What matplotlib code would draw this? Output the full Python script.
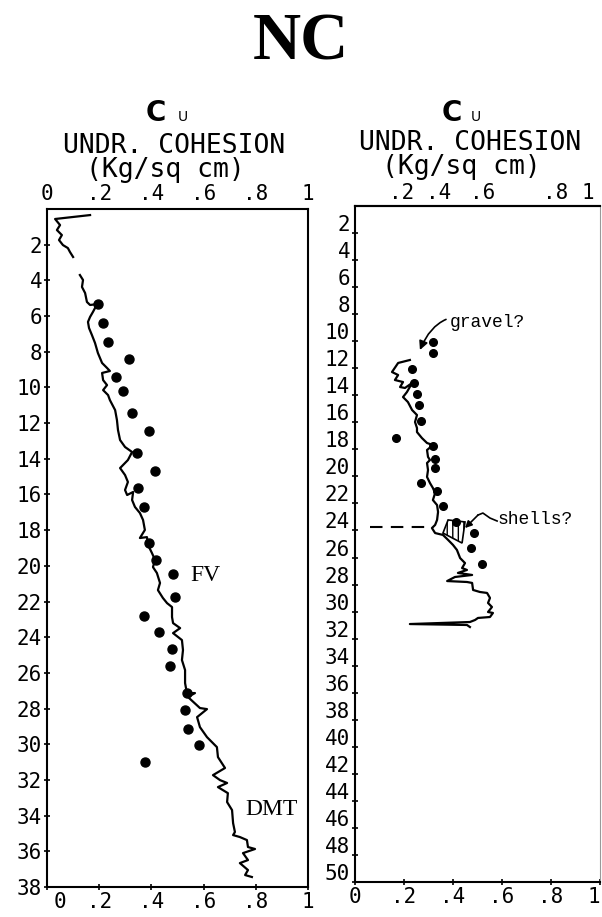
import matplotlib.pyplot as plt
from matplotlib.transforms import ScaledTranslation
from matplotlib.patches import Polygon

# ---- left profile (depth 0-38) ----
# DMT line, two pieces (gap near 3 m)
dmt1_x = [0.165, 0.031, 0.050, 0.038, 0.057, 0.046, 0.061, 0.080, 0.088, 0.100]
dmt1_z = [0.34, 0.56, 0.90, 1.18, 1.46, 1.74, 2.02, 2.19, 2.41, 2.69]

dmt2_x = [0.126, 0.138, 0.134, 0.146, 0.153, 0.165, 0.192, 0.176, 0.165, 0.157,
          0.161, 0.172, 0.184, 0.195, 0.211, 0.230, 0.241, 0.211, 0.215, 0.230,
          0.215, 0.234, 0.241, 0.261, 0.268, 0.272, 0.280, 0.299, 0.326, 0.310,
          0.280, 0.299, 0.310, 0.299, 0.307, 0.330, 0.326, 0.337, 0.356, 0.368,
          0.375, 0.356, 0.383, 0.387, 0.402, 0.414, 0.406, 0.421, 0.433, 0.425,
          0.444, 0.460, 0.479, 0.479, 0.483, 0.510, 0.483, 0.517, 0.521, 0.517,
          0.529, 0.529, 0.536, 0.567, 0.540, 0.586, 0.613, 0.575, 0.586, 0.613,
          0.651, 0.655, 0.682, 0.636, 0.663, 0.690, 0.655, 0.693, 0.690, 0.709,
          0.713, 0.720, 0.713, 0.739, 0.766, 0.770, 0.797, 0.751, 0.770, 0.739,
          0.770, 0.759, 0.785]
dmt2_z = [3.70, 3.98, 4.37, 4.71, 5.21, 5.38, 5.33, 5.77, 6.05, 6.33,
          6.67, 7.06, 7.51, 8.07, 8.63, 8.91, 9.08, 9.19, 9.59, 9.87,
          10.15, 10.43, 10.71, 11.27, 11.83, 12.39, 12.95, 13.34, 13.62, 14.07,
          14.52, 14.91, 15.30, 15.75, 16.03, 15.86, 16.31, 16.70, 17.04, 17.43,
          17.99, 18.44, 18.39, 18.83, 19.28, 19.67, 20.07, 20.40, 20.96, 21.36,
          21.80, 22.09, 22.31, 22.87, 23.21, 23.49, 23.77, 24.16, 24.72, 25.28,
          25.84, 26.57, 27.13, 27.13, 27.35, 27.97, 28.03, 28.48, 29.04, 29.60,
          30.16, 30.72, 31.33, 31.73, 32.01, 32.17, 32.40, 32.74, 33.24, 33.69,
          34.42, 34.92, 35.09, 35.20, 35.37, 35.76, 35.87, 36.10, 36.49, 36.66,
          37.05, 37.33, 37.44]

# field vane points
fv_x = [0.195, 0.215, 0.234, 0.314, 0.264, 0.291, 0.326, 0.391, 0.345, 0.414,
        0.349, 0.372, 0.391, 0.418, 0.483, 0.490, 0.372, 0.429, 0.479, 0.471,
        0.536, 0.529, 0.540, 0.582, 0.375]
fv_z = [5.33, 6.39, 7.46, 8.41, 9.42, 10.20, 11.43, 12.44, 13.68, 14.69,
        15.64, 16.70, 18.72, 19.67, 20.46, 21.75, 22.81, 23.71, 24.66, 25.62,
        27.13, 28.08, 29.15, 30.04, 31.00]

# ---- right profile (depth 0-50) ----
r_line_x = [0.224, 0.176, 0.151, 0.176, 0.163, 0.196, 0.184, 0.204, 0.233, 0.212,
            0.196, 0.216, 0.233, 0.253, 0.245, 0.253, 0.253, 0.273, 0.294, 0.318,
            0.294, 0.298, 0.306, 0.294, 0.298, 0.294, 0.306, 0.318, 0.327, 0.318,
            0.335, 0.339, 0.335, 0.327, 0.314, 0.327, 0.359, 0.380, 0.400, 0.416,
            0.429, 0.449, 0.437, 0.457, 0.420, 0.478, 0.408, 0.376, 0.457, 0.478,
            0.482, 0.510, 0.539, 0.551, 0.543, 0.559, 0.543, 0.563, 0.551, 0.502,
            0.490, 0.469, 0.224, 0.457, 0.469]
r_line_z = [11.39, 11.61, 12.28, 12.50, 12.87, 13.02, 13.39, 13.46, 13.09, 13.76,
            14.13, 14.50, 15.09, 15.46, 15.98, 16.42, 16.72, 17.16, 17.53, 17.68,
            18.05, 18.56, 18.79, 19.01, 19.53, 20.04, 20.49, 20.86, 21.23, 21.75,
            22.12, 22.63, 23.22, 23.59, 23.82, 24.19, 24.33, 24.70, 25.07, 25.44,
            26.04, 26.41, 26.78, 26.92, 27.14, 27.29, 27.44, 27.74, 27.81, 27.88,
            28.40, 28.55, 28.62, 28.99, 29.36, 29.66, 30.03, 30.10, 30.40, 30.47,
            30.62, 30.77, 30.92, 30.99, 31.14]

r_pts_x = [0.318, 0.318, 0.233, 0.241, 0.253, 0.261, 0.269, 0.167, 0.318, 0.327,
           0.327, 0.269, 0.335, 0.359, 0.412, 0.486, 0.473, 0.518]
r_pts_z = [10.06, 10.87, 12.06, 13.09, 13.91, 14.72, 15.90, 17.16, 17.75, 18.71,
           19.38, 20.49, 21.08, 22.19, 23.37, 24.19, 25.30, 26.48]

shell_x = [0.380, 0.449, 0.437, 0.359]
shell_z = [23.22, 23.37, 24.93, 24.19]

left_yticks = list(range(2, 39, 2))
right_yticks = list(range(2, 51, 2))
x_ticks = [0, 0.2, 0.4, 0.6, 0.8, 1.0]
x_labels = ['0', '.2', '.4', '.6', '.8', '1']
right_top_pos = [0.19, 0.34, 0.52, 0.82, 0.95]
right_top_labels = ['.2', '.4', '.6', '.8', '1']

mono = 'DejaVu Sans Mono'

fig = plt.figure(figsize=(6.02, 9.17), dpi=100)
W, H = 602.0, 917.0

ax1 = fig.add_axes([47 / W, 1 - 887 / H, 261 / W, 678 / H])
ax2 = fig.add_axes([355 / W, 1 - 882 / H, 245 / W, 676 / H])

# left panel
ax1.plot(dmt1_x, dmt1_z, color='black', lw=1.6)
ax1.plot(dmt2_x, dmt2_z, color='black', lw=1.6)
ax1.plot(fv_x, fv_z, 'o', color='black', ms=6.5, zorder=3)
ax1.set_xlim(0, 1)
ax1.set_ylim(38, 0)
ax1.set_xticks(x_ticks)
ax1.set_xticklabels(x_labels)
ax1.set_yticks(left_yticks)
ax1.set_yticklabels([str(v) for v in left_yticks])
ax1.tick_params(labeltop=True, top=False, direction='inout', length=5, width=1.2,
                pad=1, labelsize=15)
ax1.text(0.548, 20.52, 'FV', family='Liberation Serif', fontsize=17, va='center')
ax1.text(0.759, 33.63, 'DMT', family='Liberation Serif', fontsize=17, va='center')
# bottom "0" sits right of the corner, clear of the "38"
ax1.get_xticklabels()[0].set_transform(
    ax1.get_xticklabels()[0].get_transform()
    + ScaledTranslation(0.13, 0, fig.dpi_scale_trans))

# right panel
ax2.plot(r_line_x, r_line_z, color='black', lw=1.6)
ax2.plot(r_pts_x, r_pts_z, 'o', color='black', ms=5.5, zorder=3)
ax2.add_patch(Polygon(list(zip(shell_x, shell_z)), closed=True, fill=False,
                      hatch='|||', lw=1.2, edgecolor='black'))
ax2.plot([0.06, 0.314], [23.74, 23.74], color='black', lw=1.5,
         linestyle=(0, (6, 4)), clip_on=False)
ax2.set_xlim(0, 1)
ax2.set_ylim(50, 0)
ax2.set_xticks(x_ticks)
ax2.set_xticklabels(x_labels)
ax2.set_yticks(right_yticks)
ax2.set_yticklabels([str(v) for v in right_yticks])
ax2.tick_params(direction='inout', length=5, width=1.2, pad=1, labelsize=15)
shift = ScaledTranslation(0, 10 / 100, fig.dpi_scale_trans)
for lab in ax2.get_yticklabels():
    lab.set_transform(lab.get_transform() + shift)
last = ax2.get_xticklabels()[-1]
last.set_transform(last.get_transform() + ScaledTranslation(-0.06, 0, fig.dpi_scale_trans))
top2 = ax2.secondary_xaxis('top')
top2.set_xticks(right_top_pos)
top2.set_xticklabels(right_top_labels)
top2.tick_params(length=0, pad=2, labelsize=15)
for lab in top2.get_xticklabels():
    lab.set_family(mono)
top2.spines['top'].set_linewidth(1.5)

ax2.annotate('gravel?', xy=(0.265, 10.65), xytext=(0.388, 8.58),
             family='Liberation Mono', fontsize=13, va='center',
             arrowprops=dict(arrowstyle='-|>', color='black', lw=1.2,
                             connectionstyle='arc3,rad=0.5', shrinkA=1, shrinkB=0))
ax2.text(0.580, 23.22, 'shells?', family='Liberation Mono', fontsize=13, va='center')
ax2.plot([0.580, 0.551, 0.522, 0.502], [23.30, 23.08, 22.71, 22.86],
         color='black', lw=1.2)
ax2.annotate('', xy=(0.449, 23.82), xytext=(0.502, 22.86),
             arrowprops=dict(arrowstyle='-|>', color='black', lw=1.2,
                             shrinkA=0, shrinkB=0))

for ax in (ax1, ax2):
    for s in ax.spines.values():
        s.set_linewidth(1.5)
    for lab in ax.get_xticklabels() + ax.get_yticklabels():
        lab.set_family(mono)
ax2.spines['right'].set_color('0.6')
ax2.spines['right'].set_linewidth(0.8)

# headers
fig.text(301 / W, 1 - 43 / H, 'NC', family='Liberation Serif', weight='bold',
         fontsize=48, ha='center', va='center')
for cx, ux, y1, y2 in [(156, 183, 146, 170), (452, 476, 143, 167)]:
    fig.text(cx / W, 1 - 121 / H, 'C', family='DejaVu Sans', weight='bold',
             fontsize=20, ha='center', va='baseline')
    fig.text(ux / W, 1 - 121 / H, 'U', family='DejaVu Sans',
             fontsize=10, ha='center', va='baseline')
    fig.text((cx + 18) / W, 1 - y1 / H, 'UNDR. COHESION', family=mono,
             fontsize=19, ha='center', va='center')
    fig.text((cx + 9) / W, 1 - y2 / H, '(Kg/sq cm)', family=mono,
             fontsize=19, ha='center', va='center')

fig.savefig('out.png', dpi=100)
